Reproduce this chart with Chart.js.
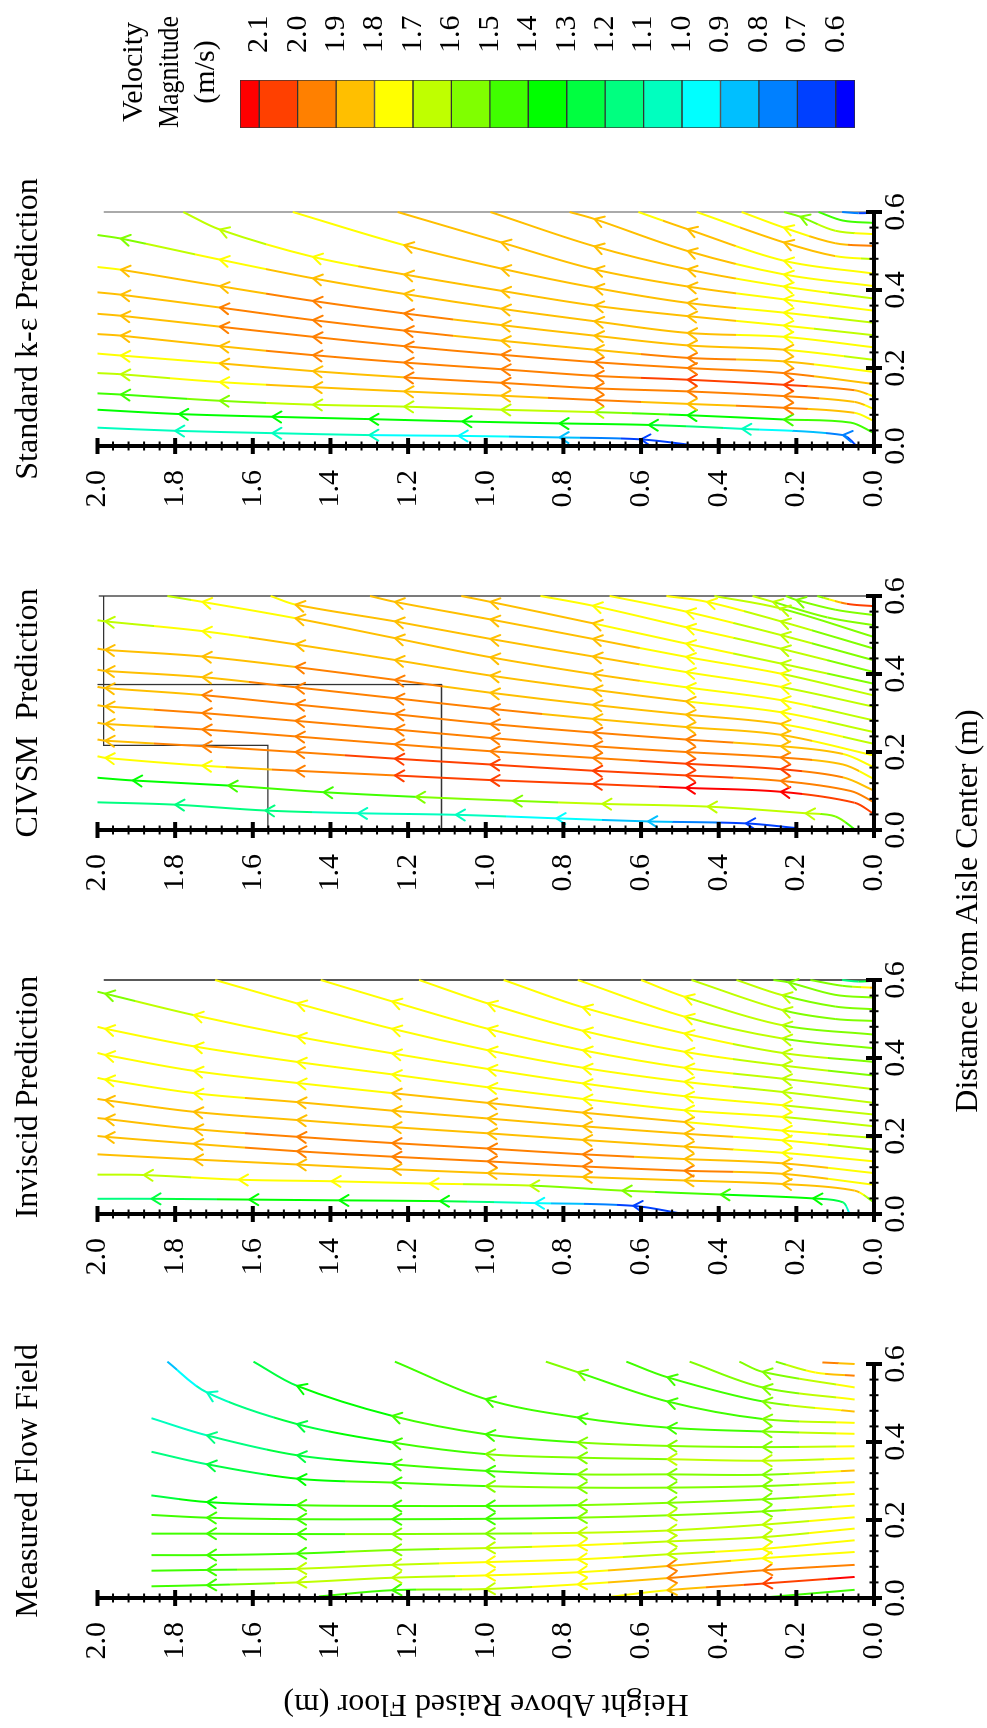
<!DOCTYPE html>
<html>
<head>
<meta charset="utf-8">
<script src="https://cdn.jsdelivr.net/npm/chart.js@4.4.1/dist/chart.umd.min.js"></script>
<style>
  html, body { margin: 0; padding: 0; background: #fff; }
  body { width: 987px; height: 1728px; overflow: hidden; position: relative; }
  #fig { position: absolute; left: 0; top: 0; width: 1728px; height: 987px;
         transform-origin: 0 0; transform: translate(0, 1728px) rotate(-90deg); }
  #fig canvas { position: absolute; top: 0; }
  .lbl { position: absolute; font-family: "Liberation Serif", "Times New Roman", serif;
         font-size: 32px; line-height: 32px; color: #000; white-space: pre; text-align: center; }
</style>
</head>
<body>
<div id="fig">
  <canvas id="p0" width="434" height="987" style="left:30px"></canvas>
  <canvas id="p1" width="434" height="987" style="left:414px"></canvas>
  <canvas id="p2" width="434" height="987" style="left:798px"></canvas>
  <canvas id="p3" width="434" height="987" style="left:1182px"></canvas>
  <canvas id="cb" width="144" height="987" style="left:1584px"></canvas>
  <div class="lbl" id="xlab" style="left:517px; top:950px; width:600px;">Distance from Aisle Center (m)</div>
  <div class="lbl" id="ylab" style="left:-228px; top:470px; width:500px; transform:rotate(-90deg);">Height Above Raised Floor (m)</div>
</div>
<script>
document.addEventListener('DOMContentLoaded', function () {
    var serif = '"Liberation Serif", "Times New Roman", serif';
    Chart.defaults.font.family = serif;
    Chart.defaults.color = '#000';
    Chart.defaults.animation = false;

    // axis ticks and titles
    var heightTicks = [0, 0.2, 0.4, 0.6, 0.8, 1.0, 1.2, 1.4, 1.6, 1.8, 2.0];
    var distanceTicks = [0, 0.2, 0.4, 0.6];
    var panelTitles = ['Measured Flow Field', 'Inviscid Prediction', 'CIVSM  Prediction', 'Standard k-\u03b5 Prediction'];

    // velocity magnitude legend (m/s)
    var bandEdges = [2.15, 2.1, 2.0, 1.9, 1.8, 1.7, 1.6, 1.5, 1.4, 1.3, 1.2, 1.1, 1.0, 0.9, 0.8, 0.7, 0.6, 0.55];
    var bandColors = ['#ff0000', '#ff4000', '#ff8000', '#ffbf00', '#ffff00', '#bfff00', '#80ff00', '#40ff00',
                      '#00ff00', '#00ff40', '#00ff80', '#00ffbf', '#00ffff', '#00bfff', '#0080ff', '#0040ff', '#0000ff'];
    var colorbarTicks = [2.1, 2.0, 1.9, 1.8, 1.7, 1.6, 1.5, 1.4, 1.3, 1.2, 1.1, 1.0, 0.9, 0.8, 0.7, 0.6];

    // streamlines: [height m, distance m, speed m/s] (4th value 0 = no arrow at that point)
    var measuredLines = [
        [[.05,.021,1.45],[.3,0,1.45]],
        [[.05,.054,2.12],[.286,.037,2.05],[.532,.02,1.8],[.68,.003,1.75]],
        [[.05,.085,1.95],[.286,.071,1.95],[.532,.051,1.9],[.763,.035,1.75],[1.0,.023,1.65],[1.241,.02,1.45],[1.43,.004,1.45]],
        [[.05,.118,1.75],[.287,.102,1.75],[.532,.082,1.9],[.763,.066,1.75],[1.0,.058,1.75],[1.241,.052,1.6],[1.486,.04,1.65],[1.718,.033,1.45],[1.861,.03,1.4]],
        [[.05,.148,1.75],[.287,.126,1.75],[.532,.112,1.65],[.763,.099,1.75],[1.0,.092,1.75],[1.241,.085,1.65],[1.486,.075,1.6],[1.718,.072,1.45],[1.861,.07,1.45]],
        [[.05,.178,1.75],[.287,.156,1.65],[.532,.145,1.65],[.763,.135,1.75],[1.0,.128,1.65],[1.241,.123,1.55],[1.486,.114,1.45],[1.718,.11,1.4],[1.861,.11,1.4]],
        [[.05,.207,1.75],[.287,.188,1.65],[.532,.173,1.6],[.763,.167,1.65],[1.0,.165,1.55],[1.241,.164,1.55],[1.486,.164,1.45],[1.718,.165,1.4],[1.861,.165,1.4]],
        [[.05,.237,1.75],[.287,.222,1.55],[.532,.212,1.6],[.763,.206,1.5],[1.0,.203,1.45],[1.241,.202,1.45],[1.486,.202,1.45],[1.718,.206,1.4],[1.861,.213,1.4]],
        [[.05,.267,1.75],[.287,.253,1.5],[.532,.244,1.5],[.763,.238,1.5],[1.0,.236,1.45],[1.241,.236,1.45],[1.486,.238,1.4],[1.718,.246,1.35],[1.861,.263,1.25]],
        [[.05,.297,1.75],[.287,.287,1.5],[.532,.283,1.5],[.763,.283,1.5],[1.0,.287,1.5],[1.241,.296,1.45],[1.486,.306,1.35],[1.718,.343,1.2],[1.861,.375,1.15]],
        [[.05,.327,1.85],[.287,.316,1.5],[.532,.317,1.5],[.763,.317,1.5],[1.0,.326,1.45],[1.241,.343,1.4],[1.486,.366,1.25],[1.718,.417,1.1],[1.861,.461,1.05]],
        [[.05,.358,1.75],[.287,.352,1.6],[.532,.356,1.6],[.763,.36,1.5],[1.0,.369,1.5],[1.241,.399,1.4],[1.486,.446,1.25],[1.718,.527,1.05],[1.82,.606,.85]],
        [[.05,.389,1.75],[.287,.387,1.5],[.532,.39,1.5],[.763,.399,1.5],[1.0,.42,1.45],[1.241,.467,1.4],[1.486,.544,1.3],[1.598,.606,1.25]],
        [[.05,.421,1.75],[.287,.427,1.5],[.532,.437,1.45],[.763,.463,1.45],[1.0,.51,1.4],[1.234,.606,1.4]],
        [[.05,.449,1.75],[.287,.459,1.5],[.532,.504,1.45],[.763,.579,1.5],[.845,.606,1.5]],
        [[.05,.478,1.85],[.287,.504,1.5],[.532,.566,1.45],[.638,.606,1.45]],
        [[.05,.509,1.75],[.287,.54,1.5],[.475,.606,1.5]],
        [[.05,.54,1.75],[.287,.58,1.5],[.347,.606,1.5]],
        [[.05,.57,1.95],[.15,.578,1.75,0],[.253,.606,1.55]],
        [[.05,.6,1.85],[.133,.604,1.95]]
    ];
    var inviscidLines = [
        [[.49,0,.6],[.62,.021,.65],[.873,.028,.95],[1.118,.033,1.3],[1.377,.035,1.35],[1.609,.037,1.35],[1.861,.039,1.2],[2,.039,1.15]],
        [[.064,.003,.95],[.08,.03,1.2,0],[.157,.04,1.35],[.395,.05,1.4],[.648,.06,1.55],[.886,.073,1.6],[1.145,.078,1.75],[1.397,.084,1.75],[1.636,.088,1.75],[1.881,.1,1.65],[2,.101,1.6]],
        [[0,.03,1.45],[.05,.06,1.9,0],[.236,.077,1.85],[.488,.086,1.85],[.75,.095,1.85],[.995,.105,1.85],[1.241,.115,1.85],[1.486,.127,1.85],[1.752,.14,1.85],[2,.153,1.85]],
        [[0,.075,1.75],[.236,.103,1.85],[.488,.111,1.95],[.75,.122,1.95],[.995,.135,1.95],[1.241,.147,1.95],[1.486,.161,1.95],[1.752,.18,1.85],[1.98,.198,1.85],[2,.2,1.85]],
        [[0,.105,1.75],[.236,.13,1.85],[.488,.141,1.85],[.75,.153,1.95],[.995,.168,1.95],[1.241,.182,1.95],[1.486,.198,1.95],[1.752,.218,1.85],[1.98,.244,1.85],[2,.246,1.85]],
        [[0,.135,1.7],[.236,.157,1.75],[.488,.173,1.85],[.75,.19,1.85],[.995,.207,1.85],[1.241,.223,1.85],[1.486,.241,1.85],[1.752,.262,1.85],[1.98,.292,1.85],[2,.295,1.85]],
        [[0,.165,1.65],[.236,.189,1.75],[.488,.206,1.85],[.75,.225,1.85],[.995,.245,1.85],[1.241,.265,1.85],[1.486,.287,1.85],[1.752,.31,1.75],[1.98,.345,1.75],[2,.349,1.75]],
        [[0,.195,1.65],[.236,.214,1.75],[.488,.236,1.8],[.75,.26,1.85],[.995,.285,1.85],[1.241,.31,1.8],[1.486,.336,1.75],[1.752,.367,1.75],[1.98,.408,1.75],[2,.413,1.75]],
        [[0,.225,1.6],[.236,.249,1.7],[.488,.266,1.75],[.75,.295,1.75],[.995,.325,1.75],[1.241,.358,1.75],[1.486,.39,1.75],[1.752,.43,1.75],[1.98,.475,1.7],[2,.48,1.7]],
        [[0,.255,1.6],[.236,.279,1.7],[.488,.302,1.75],[.75,.335,1.75],[.995,.372,1.75],[1.241,.412,1.75],[1.486,.455,1.75],[1.752,.51,1.7],[1.98,.565,1.55],[2,.57,1.55]],
        [[0,.285,1.6],[.236,.313,1.65],[.488,.339,1.75],[.75,.375,1.75],[.995,.42,1.75],[1.241,.475,1.75],[1.486,.54,1.75],[1.697,.6,1.7]],
        [[0,.32,1.6],[.236,.347,1.65],[.488,.375,1.75],[.75,.42,1.75],[.995,.475,1.75],[1.241,.545,1.75],[1.425,.6,1.75]],
        [[0,.355,1.55],[.236,.381,1.65],[.488,.416,1.75],[.75,.47,1.75],[.995,.54,1.75],[1.172,.6,1.75]],
        [[0,.39,1.55],[.236,.413,1.65],[.488,.463,1.75],[.75,.53,1.75],[.954,.6,1.75]],
        [[0,.425,1.5],[.236,.45,1.6],[.488,.506,1.7],[.763,.6,1.75]],
        [[0,.46,1.5],[.236,.484,1.6],[.488,.557,1.7],[.6,.6,1.75]],
        [[0,.495,1.5],[.1,.5,1.55,0],[.236,.523,1.6],[.47,.6,1.7]],
        [[0,.525,1.55],[.1,.532,1.5,0],[.236,.561,1.6],[.354,.6,1.65]],
        [[0,.555,1.55],[.1,.562,1.5,0],[.22,.594,1.55],[.259,.6,1.55]],
        [[0,.58,1.85],[.08,.585,1.5,0],[.164,.6,1.5]],
        [[0,.598,1.45],[.04,.596,1.2,0],[.082,.6,1.1]]
    ];
    var civsmLines = [
        [[.2,.005,.6],[.33,.017,.65],[.582,.022,.85],[.818,.03,.95],[1.077,.039,1.05],[1.329,.043,1.05],[1.568,.05,1.15],[1.8,.065,1.15],[2,.071,1.15]],
        [[.047,0,1.45],[.1,.035,1.55,0],[.176,.043,1.65],[.428,.06,1.65],[.7,.067,1.65],[.93,.075,1.55],[1.18,.085,1.5],[1.418,.097,1.45],[1.663,.114,1.4],[1.909,.127,1.35],[2,.134,1.35]],
        [[0,.041,2.05],[.05,.07,2.05,0],[.24,.098,2.12],[.484,.108,2.12],[.724,.118,2.05],[.988,.128,2.05],[1.234,.14,2.0],[1.49,.152,1.95],[1.73,.165,1.75],[1.98,.185,1.75],[2,.189,1.75]],
        [[0,.071,1.9],[.06,.1,1.95,0],[.24,.126,1.95],[.484,.14,2.05],[.724,.152,2.05],[.988,.168,2.05],[1.234,.183,2.05],[1.49,.2,1.95],[1.73,.215,1.95],[1.98,.229,1.85],[2,.232,1.85]],
        [[0,.101,1.8],[.08,.135,1.9,0],[.24,.156,2.05],[.484,.17,2.05],[.724,.185,1.95],[.988,.202,1.95],[1.234,.22,1.95],[1.49,.24,1.95],[1.73,.258,1.95],[1.98,.272,1.85],[2,.275,1.85]],
        [[0,.131,1.75],[.08,.168,1.85,0],[.24,.186,1.95],[.484,.2,1.95],[.724,.215,1.95],[.988,.236,1.95],[1.234,.258,1.95],[1.49,.28,1.95],[1.73,.3,1.95],[1.98,.317,1.85],[2,.32,1.85]],
        [[0,.161,1.7],[.08,.195,1.8,0],[.24,.215,1.85],[.484,.232,1.95],[.724,.25,1.95],[.988,.272,1.95],[1.234,.297,1.95],[1.49,.322,1.95],[1.73,.346,1.9],[1.98,.364,1.85],[2,.367,1.85]],
        [[0,.191,1.7],[.24,.244,1.85],[.484,.264,1.85],[.724,.285,1.85],[.988,.311,1.95],[1.234,.338,1.95],[1.49,.366,1.95],[1.73,.392,1.85],[1.98,.408,1.85],[2,.411,1.85]],
        [[0,.221,1.65],[.24,.272,1.8],[.484,.296,1.85],[.724,.321,1.85],[.988,.352,1.85],[1.234,.385,1.95],[1.49,.418,1.9],[1.73,.445,1.85],[1.98,.462,1.85],[2,.465,1.85]],
        [[0,.251,1.65],[.24,.302,1.75],[.484,.33,1.8],[.724,.36,1.85],[.988,.396,1.85],[1.234,.436,1.85],[1.49,.476,1.85],[1.73,.51,1.75],[1.98,.535,1.65],[2,.538,1.65]],
        [[0,.281,1.6],[.24,.333,1.75],[.484,.366,1.75],[.724,.4,1.85],[.988,.443,1.85],[1.234,.492,1.85],[1.49,.543,1.8],[1.73,.585,1.75],[1.82,.6,1.6]],
        [[0,.316,1.6],[.24,.367,1.7],[.484,.405,1.75],[.724,.445,1.85],[.988,.49,1.85],[1.234,.535,1.85],[1.49,.578,1.8],[1.554,.6,1.75]],
        [[0,.345,1.6],[.24,.401,1.7],[.484,.444,1.75],[.724,.49,1.85],[.988,.54,1.85],[1.234,.585,1.85],[1.298,.6,1.85]],
        [[0,.375,1.55],[.24,.427,1.65],[.484,.478,1.75],[.724,.53,1.8],[.988,.585,1.85],[1.063,.6,1.85]],
        [[0,.405,1.55],[.24,.465,1.65],[.484,.52,1.75],[.724,.575,1.75],[.859,.6,1.75]],
        [[0,.435,1.5],[.24,.5,1.65],[.484,.56,1.75],[.681,.6,1.75]],
        [[0,.465,1.5],[.24,.535,1.65],[.43,.585,1.75],[.535,.6,1.75]],
        [[0,.495,1.5],[.24,.568,1.6],[.411,.6,1.65]],
        [[0,.525,1.5],[.12,.545,1.55,0],[.26,.585,1.6],[.313,.6,1.6]],
        [[0,.551,1.6],[.1,.565,1.55,0],[.2,.59,1.55],[.227,.6,1.55]],
        [[0,.574,2.05],[.07,.58,2.0,0],[.146,.6,1.5]]
    ];
    var standardLines = [
        [[.45,0,.6],[.6,.017,.65],[.81,.022,.85],[1.07,.026,.95],[1.3,.028,1.0],[1.55,.033,1.0],[1.8,.039,1.0],[2,.047,1.0]],
        [[.045,0,.6],[.08,.028,.75],[.34,.044,1.05],[.58,.054,1.3],[.81,.058,1.35],[1.06,.063,1.35],[1.3,.069,1.35],[1.55,.075,1.35],[1.79,.082,1.35],[2,.093,1.4]],
        [[0,.033,1.4],[.06,.06,1.4,0],[.232,.068,1.4],[.48,.079,1.35],[.72,.087,1.6],[.96,.093,1.65],[1.21,.101,1.65],[1.445,.106,1.65],[1.685,.116,1.55],[1.94,.132,1.4],[2,.135,1.4]],
        [[0,.064,1.75],[.05,.085,1.8,0],[.232,.098,1.95],[.48,.108,1.85],[.72,.118,1.95],[.96,.129,1.85],[1.21,.14,1.85],[1.445,.151,1.85],[1.685,.164,1.75],[1.94,.184,1.65],[2,.187,1.65]],
        [[0,.095,1.75],[.05,.113,1.85,0],[.232,.128,1.95],[.48,.14,1.95],[.72,.148,1.95],[.96,.162,1.95],[1.21,.176,1.9],[1.445,.192,1.85],[1.685,.212,1.8],[1.94,.232,1.75],[2,.237,1.75]],
        [[0,.127,1.75],[.05,.143,1.9,0],[.232,.157,2.05],[.48,.17,2.05],[.72,.18,1.95],[.96,.197,1.95],[1.21,.214,1.95],[1.445,.233,1.95],[1.685,.256,1.85],[1.94,.283,1.85],[2,.287,1.85]],
        [[0,.159,1.8],[.232,.187,1.95],[.48,.2,1.95],[.72,.215,1.95],[.96,.234,1.95],[1.21,.256,1.95],[1.445,.28,1.95],[1.685,.306,1.9],[1.94,.334,1.85],[2,.339,1.85]],
        [[0,.19,1.7],[.232,.217,1.85],[.48,.226,1.95],[.72,.247,1.85],[.96,.27,1.85],[1.21,.296,1.95],[1.445,.323,1.95],[1.685,.355,1.9],[1.94,.388,1.85],[2,.394,1.85]],
        [[0,.221,1.65],[.232,.247,1.8],[.48,.258,1.85],[.72,.283,1.85],[.96,.31,1.85],[1.21,.34,1.95],[1.445,.372,1.95],[1.685,.41,1.85],[1.94,.452,1.8],[2,.459,1.75]],
        [[0,.253,1.7],[.232,.28,1.75],[.48,.29,1.85],[.72,.32,1.85],[.96,.352,1.85],[1.21,.39,1.85],[1.445,.43,1.85],[1.685,.478,1.75],[1.94,.532,1.55],[2,.541,1.55]],
        [[0,.284,1.6],[.232,.309,1.75],[.48,.333,1.85],[.72,.36,1.85],[.96,.398,1.85],[1.21,.44,1.85],[1.445,.485,1.75],[1.685,.555,1.65],[1.779,.6,1.6]],
        [[0,.316,1.65],[.232,.342,1.75],[.48,.367,1.85],[.72,.406,1.85],[.96,.455,1.85],[1.21,.515,1.8],[1.497,.6,1.75]],
        [[0,.347,1.7],[.232,.376,1.75],[.48,.409,1.85],[.72,.453,1.85],[.96,.522,1.85],[1.227,.6,1.85]],
        [[0,.378,1.65],[.232,.409,1.75],[.48,.453,1.85],[.72,.512,1.85],[.988,.6,1.85]],
        [[0,.41,1.75],[.232,.44,1.75],[.48,.5,1.85],[.72,.582,1.85],[.784,.6,1.85]],
        [[0,.442,1.75],[.232,.475,1.75],[.48,.556,1.85],[.607,.6,1.75]],
        [[0,.479,1.65],[.1,.487,1.8,0],[.232,.522,1.85],[.457,.6,1.75]],
        [[0,.513,2.0],[.1,.52,1.85,0],[.232,.56,1.75],[.341,.6,1.7]],
        [[0,.543,1.75],[.1,.552,1.65,0],[.19,.588,1.55],[.232,.6,1.55]],
        [[0,.572,1.45],[.08,.578,1.4,0],[.143,.6,1.4]],
        [[0,.598,.65],[.04,.597,.7,0],[.082,.6,.7]]
    ];

    // outlines drawn in the panels: [height, distance]
    var inviscidBounds = [[[1.984,.6],[0,.6]]];
    var civsmBounds = [
        [[1.997,.6],[0,.6]],
        [[1.984,.6],[1.984,.217],[1.561,.217],[1.561,0]],
        [[2.0,.373],[1.114,.373],[1.114,0]]
    ];
    var standardBounds = [[[1.984,.6],[0,.6]]];

    function bandIndex(v) {
        for (var k = 0; k < bandColors.length; k++) {
            if (v >= bandEdges[k + 1]) return k;
        }
        return bandColors.length - 1;
    }

    function segColor(ctx) {
        var ds = ctx.chart.data.datasets[ctx.datasetIndex];
        var a = ds.data[ctx.p0DataIndex].v, b = ds.data[ctx.p1DataIndex].v;
        var ka = bandIndex(a), kb = bandIndex(b);
        if (ka === kb) return bandColors[ka];
        var g = ctx.chart.ctx.createLinearGradient(ctx.p0.x, ctx.p0.y, ctx.p1.x, ctx.p1.y);
        var step = ka < kb ? 1 : -1;
        g.addColorStop(0, bandColors[ka]);
        for (var k = ka; k !== kb; k += step) {
            var edge = step > 0 ? bandEdges[k + 1] : bandEdges[k];
            var t = Math.min(1, Math.max(0, (edge - a) / (b - a)));
            g.addColorStop(t, bandColors[k]);
            g.addColorStop(t, bandColors[k + step]);
        }
        g.addColorStop(1, bandColors[kb]);
        return g;
    }

    function streamSets(lines) {
        return lines.map(function (line) {
            return {
                stream: true,
                data: line.map(function (p) { return {x: p[1], y: p[0], v: p[2], arrow: p[3] !== 0}; }),
                showLine: true,
                pointRadius: 0,
                borderWidth: 2,
                borderColor: '#000',
                tension: 0.35,
                clip: 6,
                segment: {borderColor: segColor}
            };
        });
    }

    function boundSets(bounds, color, width) {
        return bounds.map(function (b) {
            return {
                data: b.map(function (p) { return {x: p[1], y: p[0]}; }),
                showLine: true,
                pointRadius: 0,
                borderColor: color,
                borderWidth: width,
                tension: 0,
                clip: 6,
                order: 1
            };
        });
    }

    // chevron arrowheads at the interior points of each streamline
    var arrowPlugin = {
        id: 'arrows',
        afterDatasetsDraw: function (chart) {
            var c = chart.ctx;
            chart.data.datasets.forEach(function (ds, di) {
                if (!ds.stream) return;
                var pts = chart.getDatasetMeta(di).data;
                c.save();
                c.lineWidth = 2;
                c.lineCap = 'round';
                c.lineJoin = 'round';
                for (var i = 1; i < pts.length - 1; i++) {
                    if (!ds.data[i].arrow) continue;
                    var p = pts[i], q0 = pts[i - 1], q1 = pts[i + 1];
                    var dx = q1.x - q0.x, dy = q1.y - q0.y;
                    var L = Math.hypot(dx, dy) || 1;
                    dx /= L; dy /= L;
                    var s = 9, w = 5.5;
                    c.strokeStyle = bandColors[bandIndex(ds.data[i].v)];
                    c.beginPath();
                    c.moveTo(p.x - dx * s + dy * w, p.y - dy * s - dx * w);
                    c.lineTo(p.x, p.y);
                    c.lineTo(p.x - dx * s - dy * w, p.y - dy * s + dx * w);
                    c.stroke();
                }
                c.restore();
            });
        }
    };

    // thick axes with ticks crossing both sides
    var axesPlugin = {
        id: 'panelAxes',
        afterDatasetsDraw: function (chart) {
            var xs = chart.scales.x, ys = chart.scales.y, c = chart.ctx;
            var x0 = xs.getPixelForValue(0), y0 = ys.getPixelForValue(0);
            var xTop = ys.getPixelForValue(2.0), xEnd = xs.getPixelForValue(0.6);
            c.save();
            c.strokeStyle = '#000';
            c.lineWidth = 4;
            c.beginPath();
            c.moveTo(x0, xTop); c.lineTo(x0, y0 + 2);
            c.moveTo(x0 - 2, y0); c.lineTo(xEnd, y0);
            c.stroke();
            var k, yy, xx, major, len;
            for (k = 0; k <= 50; k++) {
                major = k % 5 === 0;
                yy = ys.getPixelForValue(k * 0.04);
                len = major ? 8 : 4.5;
                c.lineWidth = major ? 4 : 2;
                c.beginPath(); c.moveTo(x0 - len, yy); c.lineTo(x0 + len, yy); c.stroke();
            }
            for (k = 0; k <= 15; k++) {
                major = k % 5 === 0;
                xx = xs.getPixelForValue(k * 0.04);
                len = major ? 8 : 4.5;
                c.lineWidth = major ? 4 : 2;
                c.beginPath(); c.moveTo(xx, y0 - len); c.lineTo(xx, y0 + len); c.stroke();
            }
            c.restore();
        }
    };

    function makePanel(id, title, datasets) {
        return new Chart(document.getElementById(id).getContext('2d'), {
            type: 'scatter',
            data: {datasets: datasets},
            options: {
                responsive: false,
                animation: false,
                events: [],
                layout: {padding: 0},
                plugins: {
                    legend: {display: false},
                    tooltip: {enabled: false},
                    title: {
                        display: true,
                        text: title,
                        color: '#000',
                        font: {size: 32, weight: 'normal', lineHeight: 1.2},
                        padding: {top: 9, bottom: 50.1}
                    }
                },
                scales: {
                    x: {
                        type: 'linear', min: 0, max: 0.6, position: 'bottom',
                        grid: {display: false, drawTicks: false},
                        border: {display: false},
                        afterBuildTicks: function (s) { s.ticks = distanceTicks.map(function (v) { return {value: v}; }); },
                        afterFit: function (s) { s.height = 113; },
                        ticks: {padding: 4, maxRotation: 0, autoSkip: false, color: '#000',
                                font: {size: 30}, callback: function (v) { return v.toFixed(1); }}
                    },
                    y: {
                        type: 'linear', min: 0, max: 2.0, position: 'left',
                        grid: {display: false, drawTicks: false},
                        border: {display: false},
                        afterBuildTicks: function (s) { s.ticks = heightTicks.map(function (v) { return {value: v}; }); },
                        afterFit: function (s) { s.width = 100; },
                        ticks: {padding: 24, autoSkip: false, color: '#000',
                                font: {size: 30}, callback: function (v) { return v.toFixed(1); }}
                    },
                    y2: {
                        type: 'linear', position: 'right',
                        grid: {display: false, drawTicks: false},
                        border: {display: false},
                        ticks: {display: false},
                        afterFit: function (s) { s.width = 100; }
                    }
                }
            },
            plugins: [arrowPlugin, axesPlugin]
        });
    }

    makePanel('p0', panelTitles[0], streamSets(measuredLines));
    makePanel('p1', panelTitles[1], streamSets(inviscidLines).concat(boundSets(inviscidBounds, '#222', 1.5)));
    makePanel('p2', panelTitles[2], streamSets(civsmLines).concat(boundSets(civsmBounds, '#333', 1.3)));
    makePanel('p3', panelTitles[3], streamSets(standardLines).concat(boundSets(standardBounds, '#aaaaaa', 2)));

    // colour legend
    new Chart(document.getElementById('cb').getContext('2d'), {
        type: 'bar',
        data: {
            labels: [''],
            datasets: bandColors.map(function (col, k) {
                return {
                    data: [[bandEdges[k + 1], bandEdges[k]]],
                    backgroundColor: col,
                    borderColor: '#333',
                    borderWidth: 1,
                    borderSkipped: false,
                    grouped: false,
                    barPercentage: 1,
                    categoryPercentage: 1
                };
            })
        },
        options: {
            responsive: false,
            animation: false,
            events: [],
            layout: {padding: {left: 16, right: 16, top: 0, bottom: 132}},
            plugins: {
                legend: {display: false},
                tooltip: {enabled: false},
                title: {
                    display: true,
                    text: ['Velocity', 'Magnitude', '(m/s)'],
                    color: '#000',
                    font: {size: 30, weight: 'normal', lineHeight: 1.2},
                    padding: {top: 116, bottom: 16}
                }
            },
            scales: {
                x: {display: false},
                y: {
                    type: 'linear', position: 'right', min: 0.55, max: 2.15,
                    grid: {display: false, drawTicks: false},
                    border: {display: false},
                    afterBuildTicks: function (s) { s.ticks = colorbarTicks.map(function (v) { return {value: v}; }); },
                    afterFit: function (s) { s.width = 64; },
                    ticks: {padding: 27, autoSkip: false, color: '#000', font: {size: 30},
                            callback: function (v) { return v.toFixed(1); }}
                }
            }
        }
    });
}, false);
</script>
</body>
</html>
